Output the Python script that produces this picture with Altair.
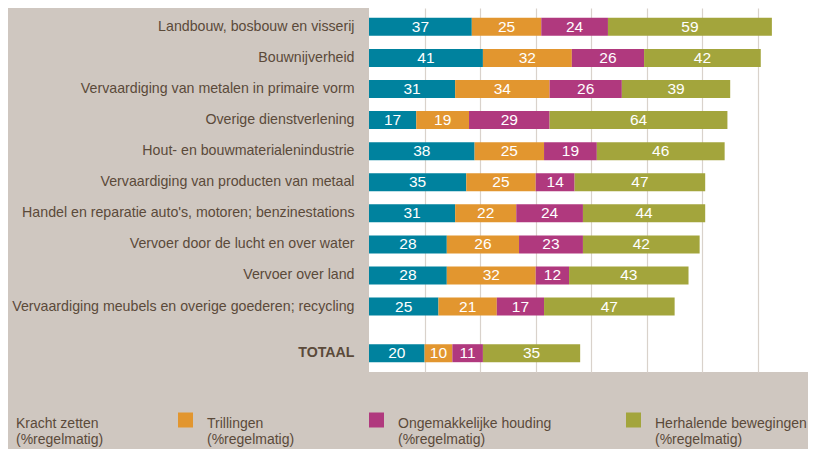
import altair as alt
import pandas as pd

sectors = [
    "Landbouw, bosbouw en visserij",
    "Bouwnijverheid",
    "Vervaardiging van metalen in primaire vorm",
    "Overige dienstverlening",
    "Hout- en bouwmaterialenindustrie",
    "Vervaardiging van producten van metaal",
    "Handel en reparatie auto's, motoren; benzinestations",
    "Vervoer door de lucht en over water",
    "Vervoer over land",
    "Vervaardiging meubels en overige goederen; recycling",
    "TOTAAL",
]
kracht = [37, 41, 31, 17, 38, 35, 31, 28, 28, 25, 20]
trillingen = [25, 32, 34, 19, 25, 25, 22, 26, 32, 21, 10]
houding = [24, 26, 26, 29, 19, 14, 24, 23, 12, 17, 11]
herhalend = [59, 42, 39, 64, 46, 47, 44, 42, 43, 47, 35]
categories = ["Kracht zetten", "Trillingen", "Ongemakkelijke houding", "Herhalende bewegingen"]
colors = ["#00829e", "#e2962f", "#b0397e", "#a3a53c"]
grid_values = [20, 40, 60, 80, 100, 120, 140]

BROWN = "#5b4a3a"
BG = "#cfc7c0"
FONT = "Liberation Sans, Arial, sans-serif"

series = [kracht, trillingen, houding, herhalend]
rows = []
for si, s in enumerate(sectors):
    for ci, c in enumerate(categories):
        rows.append({"sector": s, "cat": c, "order": ci, "value": series[ci][si]})
df = pd.DataFrame(rows)

# y domain with blank spacer rows (the total row sits a little lower)
ydomain = []
main = sectors[:-1]
for i, s in enumerate(main):
    ydomain.append(s)
    if i < len(main) - 1:
        ydomain.append("_" + str(i))
ydomain += ["_a", "_b", sectors[-1]]

y = alt.Y(
    "sector:N",
    sort=None,
    scale=alt.Scale(domain=ydomain, paddingInner=0, paddingOuter=0.71),
    axis=alt.Axis(
        title=None, domain=False, ticks=False, grid=False,
        labelPadding=15, labelFont=FONT, labelFontSize=14.2, labelColor=BROWN,
        labelLimit=400,
        labelExpr="indexof(datum.label, '_') == 0 ? '' : datum.label",
        labelFontWeight={"condition": {"test": "datum.value == 'TOTAAL'", "value": "bold"}, "value": "normal"},
    ),
)

base = alt.Chart(df).transform_stack(
    stack="value", groupby=["sector"], as_=["x0", "x1"], sort=[alt.SortField("order")]
).transform_calculate(mid="(datum.x0 + datum.x1) / 2")

bars = base.mark_bar(size=18).encode(
    x=alt.X("x0:Q", scale=alt.Scale(domain=[0, 158], nice=False),
            axis=alt.Axis(values=grid_values, labels=False, ticks=False, domain=False,
                          title=None, gridColor="#d9d2cb", gridWidth=1.2)),
    x2="x1:Q",
    y=y,
    color=alt.Color(
        "cat:N",
        scale=alt.Scale(domain=categories, range=colors),
        legend=alt.Legend(
            title=None, orient="none", legendX=-382, legendY=412,
            direction="horizontal", columns=4, columnPadding=74, padding=0,
            symbolType="M-1,-2H1V0H-1Z", symbolSize=225, symbolStrokeWidth=0,
            labelFont=FONT, labelFontSize=14, labelColor=BROWN, labelOffset=14,
            labelLimit=0, labelBaseline="alphabetic",
            labelExpr="[datum.label, '(%regelmatig)']",
        ),
    ),
)

labels = base.mark_text(color="white", font=FONT, fontSize=15.5, baseline="middle").encode(
    x="mid:Q", y=y, text="value:Q"
)

chart = alt.layer(bars, labels).properties(
    width=439, height=364,
    autosize=alt.AutoSizeParams(type="none"),
    padding={"left": 361, "top": 0, "right": 0, "bottom": 77},
).configure(
    background=BG, style={"guide-label": {"lineHeight": 16.5}}
).configure_view(fill="white", stroke=None)

chart.save("out.html", embed_options={"renderer": "svg", "actions": False})
